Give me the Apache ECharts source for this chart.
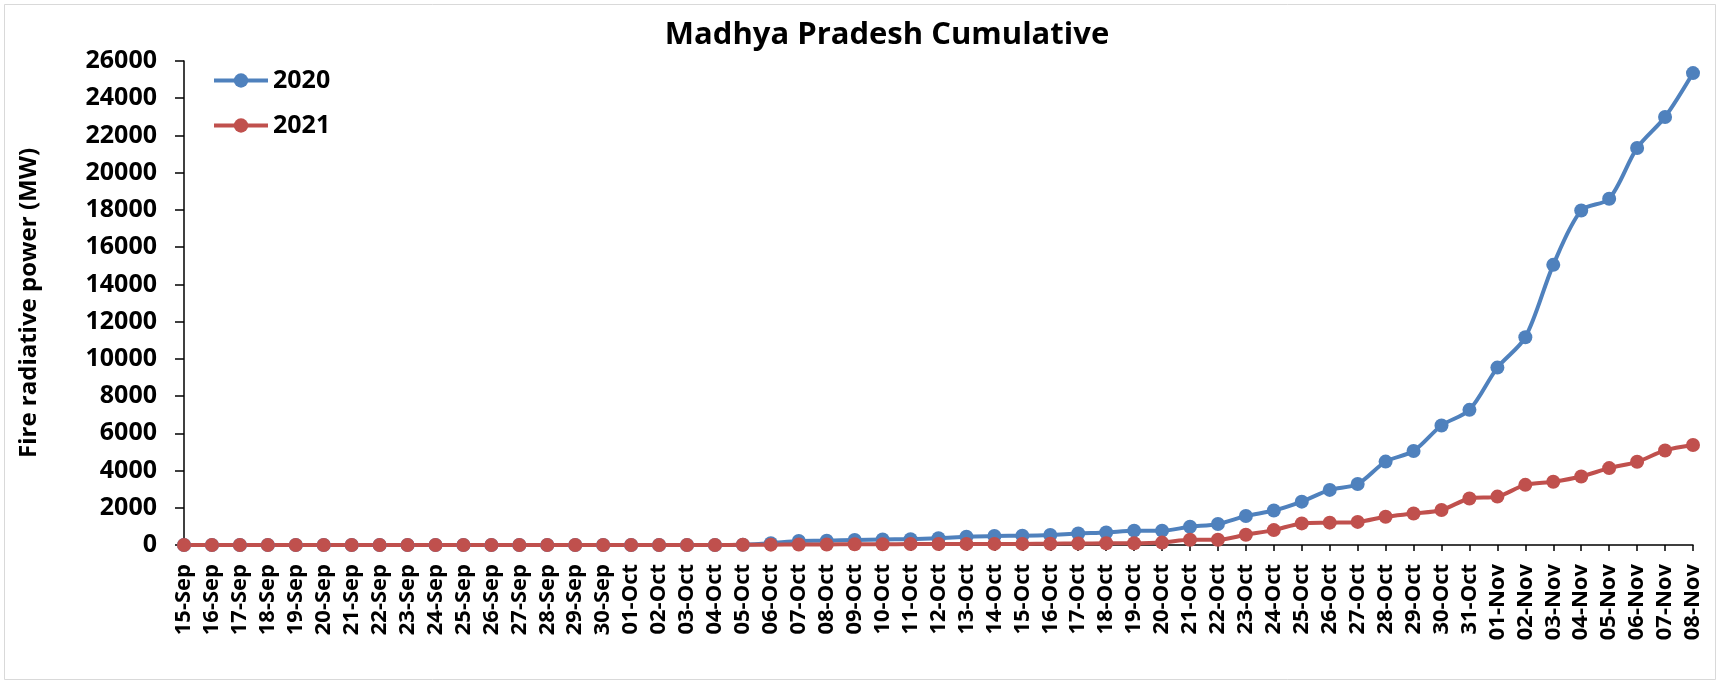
<!DOCTYPE html>
<html>
<head>
<meta charset="utf-8">
<script src="https://cdn.jsdelivr.net/npm/echarts@6/dist/echarts.min.js"></script>
<style>
html,body{margin:0;padding:0;background:#fff;}
#chart{width:1720px;height:684px;}
</style>
</head>
<body>
<div id="chart"></div>
<script>
const titleText = "Madhya Pradesh Cumulative";
const yAxisName = "Fire radiative power (MW)";
const categories = [
  "15-Sep","16-Sep","17-Sep","18-Sep","19-Sep","20-Sep","21-Sep","22-Sep","23-Sep","24-Sep",
  "25-Sep","26-Sep","27-Sep","28-Sep","29-Sep","30-Sep",
  "01-Oct","02-Oct","03-Oct","04-Oct","05-Oct","06-Oct","07-Oct","08-Oct","09-Oct","10-Oct",
  "11-Oct","12-Oct","13-Oct","14-Oct","15-Oct","16-Oct","17-Oct","18-Oct","19-Oct","20-Oct",
  "21-Oct","22-Oct","23-Oct","24-Oct","25-Oct","26-Oct","27-Oct","28-Oct","29-Oct","30-Oct","31-Oct",
  "01-Nov","02-Nov","03-Nov","04-Nov","05-Nov","06-Nov","07-Nov","08-Nov"
];
const seriesNames = ["2020", "2021"];
const values2020 = [
  0,0,0,0,0,0,0,0,0,0,
  0,0,0,0,0,0,
  0,0,0,0,10,90,220,230,270,300,
  310,360,440,490,500,540,620,670,770,770,
  980,1130,1560,1850,2330,2960,3280,4480,5050,6420,7260,
  9530,11160,15050,17970,18600,21330,22990,25350
];
const values2021 = [
  0,0,0,0,0,0,0,0,0,0,
  0,0,0,0,0,0,
  0,0,0,0,10,20,30,30,40,40,
  50,50,60,60,60,70,80,90,90,130,
  280,280,550,800,1160,1200,1240,1520,1690,1880,2500,
  2600,3230,3400,3680,4130,4470,5080,5370
];
const yMin = 0, yMax = 26000, yStep = 2000;

const FONT = "Open Sans";
const chart = echarts.init(document.getElementById('chart'), null, {renderer: 'canvas'});
const colors = ["#4F81BD", "#C0504D"];

chart.setOption({
  animation: false,
  backgroundColor: "#ffffff",
  color: colors,
  graphic: [{
    type: 'rect', silent: true,
    shape: {x: 4.5, y: 4.5, width: 1711, height: 675},
    style: {fill: 'none', stroke: '#d9d9d9', lineWidth: 1}
  }],
  title: {
    text: titleText,
    left: 887, top: 20, textAlign: 'center', padding: 0,
    textStyle: {fontFamily: FONT, fontWeight: 'bold', fontSize: 31, color: '#000'}
  },
  legend: {
    data: seriesNames,
    orient: 'vertical',
    left: 212, top: 68, padding: 0,
    itemWidth: 54, itemHeight: 18, itemGap: 20,
    lineStyle: {width: 4},
    textStyle: {fontFamily: FONT, fontWeight: 'bold', fontSize: 25, color: '#000'}
  },
  grid: {left: 184, right: 27, top: 61, bottom: 139, containLabel: false},
  xAxis: {
    type: 'category',
    data: categories,
    boundaryGap: false,
    axisLine: {lineStyle: {color: '#000', width: 1.5}},
    axisTick: {show: true, alignWithLabel: true, interval: 0, length: 6, lineStyle: {color: '#000', width: 1.5}},
    axisLabel: {interval: 0, rotate: 90, margin: 19, fontFamily: FONT, fontWeight: 'bold', fontSize: 22, color: '#000'},
    splitLine: {show: false}
  },
  yAxis: {
    type: 'value',
    min: yMin, max: yMax, interval: yStep,
    name: yAxisName,
    nameLocation: 'middle',
    nameGap: 143,
    nameTextStyle: {fontFamily: FONT, fontWeight: 'bold', fontSize: 24, color: '#000'},
    axisLine: {show: true, lineStyle: {color: '#000', width: 1.5}},
    axisTick: {show: true, length: 9, lineStyle: {color: '#000', width: 1.5}},
    axisLabel: {margin: 27, fontFamily: FONT, fontWeight: 'bold', fontSize: 25, color: '#000',
      formatter: function (v) { return String(v); }},
    splitLine: {show: false}
  },
  series: [
    {
      name: seriesNames[0], type: 'line', data: values2020,
      smooth: 0.3, symbol: 'circle', symbolSize: 14,
      lineStyle: {width: 4, color: colors[0]},
      itemStyle: {color: colors[0]}
    },
    {
      name: seriesNames[1], type: 'line', data: values2021,
      smooth: 0.3, symbol: 'circle', symbolSize: 14,
      lineStyle: {width: 4, color: colors[1]},
      itemStyle: {color: colors[1]}
    }
  ]
});
</script>
</body>
</html>
